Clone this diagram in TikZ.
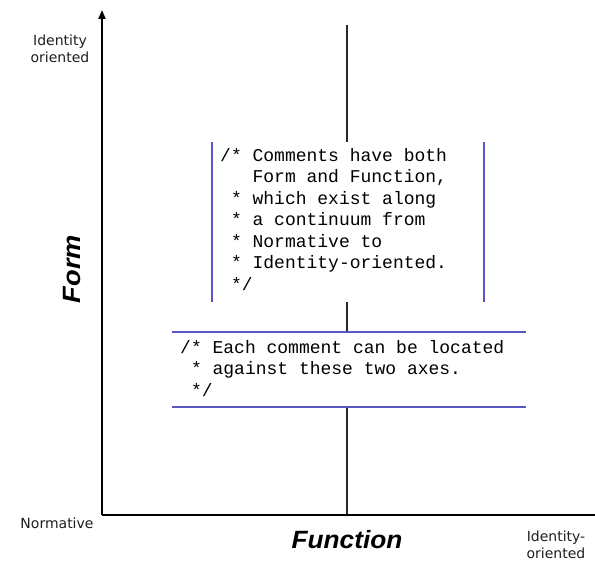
\documentclass[tikz,border=0pt]{standalone}
\usepackage{fontspec}
\setmainfont{Liberation Sans}
\newfontfamily\codefont{Liberation Mono}
\newfontfamily\labfont{DejaVu Sans}
\usetikzlibrary{arrows.meta}
\definecolor{bluel}{RGB}{88,88,196}
\definecolor{midgray}{RGB}{40,40,40}
\definecolor{labgray}{RGB}{30,30,30}
\tikzset{
  axis/.style={line width=2pt,black},
  midline/.style={line width=2pt,midgray},
  blueline/.style={line width=2pt,bluel},
  lab/.style={font=\labfont\fontsize{14}{17}\selectfont,text=labgray,align=center,inner sep=0pt},
  bigl/.style={font=\fontsize{25}{28}\selectfont\bfseries\itshape,inner sep=0pt},
  code/.style={font=\codefont\fontsize{18}{21.5}\selectfont,align=left,inner sep=0pt,anchor=north west},
  whitebox/.style={fill=white,draw=none}
}
\begin{document}
\begin{tikzpicture}[x=1pt,y=-1pt]
\useasboundingbox (0,0) rectangle (595,564);
\coordinate (o) at (102,515);
\coordinate (ytop) at (102,10);
\coordinate (xend) at (595,515);
\coordinate (mtop) at (347,25);
\coordinate (mbot) at (347,515);
\coordinate (bl1) at (212,142);
\coordinate (bl2) at (212,302);
\coordinate (br1) at (484,142);
\coordinate (br2) at (484,302);
\coordinate (h1a) at (172,332);
\coordinate (h1b) at (526,332);
\coordinate (h2a) at (172,407);
\coordinate (h2b) at (526,407);
\draw[midline] (mtop) -- (mbot);
\fill[whitebox] (bl1) rectangle (br2);
\fill[whitebox] (h1a) rectangle (h2b);
\draw[axis,-{Triangle[length=9pt,width=7pt]}] (o) -- (ytop);
\draw[axis] (o) -- (xend);
\draw[blueline] (bl1) -- (bl2);
\draw[blueline] (br1) -- (br2);
\draw[blueline] (h1a) -- (h1b);
\draw[blueline] (h2a) -- (h2b);
\node[code] (c1) at (220,148) {/* Comments have both\\\ \ \ Form and Function,\\\ * which exist along\\\ * a continuum from\\\ * Normative to\\\ * Identity-oriented.\\\ */};
\node[code] (c2) at (180,340) {/* Each comment can be located\\\ * against these two axes.\\\ */};
\node[lab] (idtop) at (60,49) {Identity\\oriented};
\node[lab] (norm) at (57,523) {Normative};
\node[lab] (idright) at (556,545) {Identity-\\oriented};
\node[bigl,xscale=1.05] (func) at (347,540) {Function};
\node[bigl,rotate=90,xscale=1.09] (form) at (72,269) {Form};
\end{tikzpicture}
\end{document}
